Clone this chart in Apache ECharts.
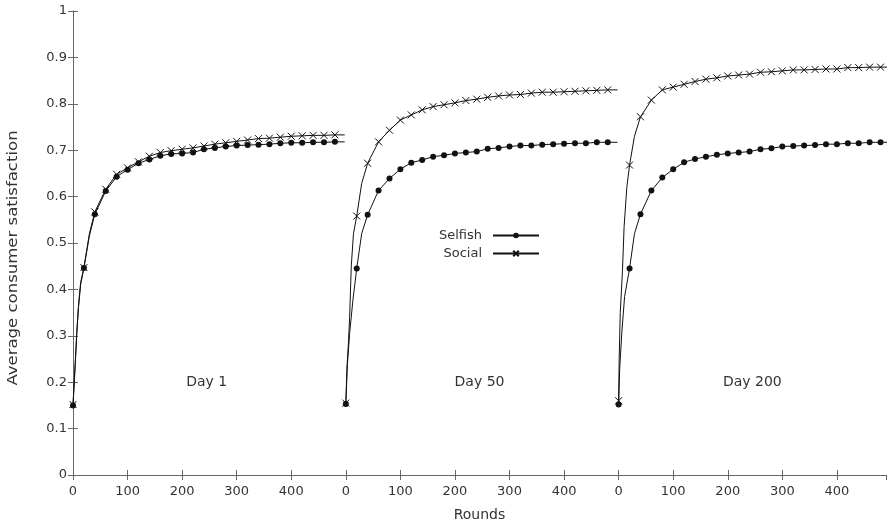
<!DOCTYPE html>
<html>
<head>
<meta charset="utf-8">
<script src="https://cdn.jsdelivr.net/npm/echarts@6/dist/echarts.min.js"></script>
<style>
  html, body { margin: 0; padding: 0; background: #fff; }
  #chart { width: 887px; height: 527px; }
</style>
</head>
<body>
<div id="chart"></div>
<script>
// rounds that carry a marker (every 20), same for each day
const markRounds = [0, 20, 40, 60, 80, 100, 120, 140, 160, 180, 200, 220, 240, 260, 280, 300, 320, 340, 360, 380, 400, 420, 440, 460, 480]
const endRound = 498
const dayOffsets = [0, 500, 1000]
const dayLabels = ['Day 1', 'Day 50', 'Day 200']

// values at the marked rounds
const selfishDay1 = [0.150, 0.446, 0.562, 0.612, 0.643, 0.658, 0.672, 0.680, 0.688, 0.692, 0.693, 0.695, 0.702, 0.705, 0.708, 0.710, 0.711, 0.712, 0.713, 0.715, 0.716, 0.716, 0.717, 0.717, 0.718]
const socialDay1 = [0.152, 0.447, 0.567, 0.616, 0.648, 0.662, 0.675, 0.687, 0.695, 0.699, 0.702, 0.705, 0.709, 0.713, 0.716, 0.719, 0.722, 0.725, 0.726, 0.728, 0.730, 0.731, 0.732, 0.732, 0.733]
const selfishDay50 = [0.153, 0.445, 0.561, 0.613, 0.639, 0.659, 0.673, 0.679, 0.686, 0.689, 0.693, 0.695, 0.697, 0.703, 0.705, 0.708, 0.710, 0.710, 0.712, 0.713, 0.714, 0.715, 0.715, 0.717, 0.717]
const socialDay50 = [0.155, 0.558, 0.672, 0.718, 0.743, 0.765, 0.776, 0.787, 0.794, 0.798, 0.802, 0.807, 0.810, 0.814, 0.817, 0.819, 0.820, 0.823, 0.825, 0.825, 0.826, 0.827, 0.828, 0.829, 0.830]
const selfishDay200 = [0.152, 0.445, 0.562, 0.613, 0.641, 0.659, 0.674, 0.681, 0.686, 0.690, 0.693, 0.695, 0.697, 0.702, 0.704, 0.708, 0.709, 0.710, 0.711, 0.713, 0.713, 0.715, 0.715, 0.717, 0.717]
const socialDay200 = [0.160, 0.668, 0.772, 0.808, 0.830, 0.836, 0.842, 0.848, 0.853, 0.856, 0.860, 0.862, 0.864, 0.868, 0.869, 0.871, 0.873, 0.873, 0.874, 0.875, 0.875, 0.878, 0.878, 0.879, 0.879]

// unmarked points on the steep start of each curve
const earlySelfishDay1 = { rounds: [4, 7, 10, 14, 30], values: [0.235, 0.305, 0.36, 0.41, 0.515] }
const earlySocialDay1 = { rounds: [4, 7, 10, 14, 30], values: [0.24, 0.31, 0.365, 0.415, 0.52] }
const earlySelfishDay50 = { rounds: [3, 7, 13, 29], values: [0.24, 0.305, 0.377, 0.52] }
const earlySocialDay50 = { rounds: [2, 5, 7, 10, 14, 29], values: [0.23, 0.29, 0.34, 0.45, 0.52, 0.628] }
const earlySelfishDay200 = { rounds: [2, 6, 11, 29], values: [0.23, 0.31, 0.385, 0.52] }
const earlySocialDay200 = { rounds: [1, 3, 7, 10, 15, 29], values: [0.25, 0.35, 0.44, 0.535, 0.62, 0.73] }

const crossPath = 'path://M0 0L10 10M10 0L0 10'

function buildData(marked, early, offset) {
  const pts = markRounds.map((r, i) => ({ value: [r + offset, marked[i]] }))
  early.rounds.forEach((r, i) => {
    pts.push({ value: [r + offset, early.values[i]], symbol: 'none' })
  })
  pts.push({ value: [endRound + offset, marked[marked.length - 1]], symbol: 'none' })
  return pts.sort((a, b) => a.value[0] - b.value[0])
}

function lineSeries(name, marked, early, offset) {
  const social = name === 'Social'
  return {
    name,
    type: 'line',
    data: buildData(marked, early, offset),
    showAllSymbol: true,
    symbol: social ? crossPath : 'circle',
    symbolSize: social ? 7 : 6,
    lineStyle: { color: '#111', width: 1 },
    itemStyle: social
      ? { color: '#111', borderColor: '#111', borderWidth: 1 }
      : { color: '#111', borderWidth: 0 },
    emphasis: { disabled: true },
    z: social ? 3 : 2,
  }
}

const chart = echarts.init(document.getElementById('chart'))
const font = 'DejaVu Sans'
const axisGray = '#666'
const textGray = '#333'

chart.setOption({
  animation: false,
  textStyle: { fontFamily: font },
  grid: { left: 73, right: 1, top: 11, bottom: 52 },
  legend: {
    data: ['Selfish', 'Social'],
    orient: 'vertical',
    align: 'right',
    right: 342,
    top: 224,
    itemWidth: 46,
    itemHeight: 7,
    itemGap: 5,
    textStyle: { fontSize: 13, color: textGray, fontFamily: font, padding: [0, 6, 0, 0] },
  },
  xAxis: [
    {
      type: 'value',
      min: 0,
      max: 1490,
      interval: 100,
      position: 'bottom',
      name: 'Rounds',
      nameLocation: 'middle',
      nameGap: 33,
      nameTextStyle: { fontSize: 14, color: textGray },
      axisLine: { lineStyle: { color: axisGray } },
      axisTick: { inside: true, length: 5, lineStyle: { color: axisGray } },
      axisLabel: {
        fontSize: 13,
        color: textGray,
        margin: 10,
        showMaxLabel: false,
        formatter: (v) => String(v % 500),
      },
      splitLine: { show: false },
    },
    {
      type: 'value',
      min: 0,
      max: 1490,
      interval: 100,
      position: 'top',
      axisLine: { lineStyle: { color: axisGray } },
      axisTick: { inside: true, length: 5, lineStyle: { color: axisGray } },
      axisLabel: { show: false },
      splitLine: { show: false },
    },
  ],
  yAxis: [
    {
      type: 'value',
      min: 0,
      max: 1,
      interval: 0.1,
      axisLine: { show: true, lineStyle: { color: axisGray } },
      axisTick: { show: true, inside: true, length: 5, lineStyle: { color: axisGray } },
      axisLabel: { fontSize: 13, color: textGray, margin: 6 },
      splitLine: { show: false },
    },
    {
      type: 'value',
      min: 0,
      max: 1,
      interval: 0.1,
      position: 'right',
      axisLine: { show: true, lineStyle: { color: axisGray } },
      axisTick: { show: true, inside: true, length: 5, lineStyle: { color: axisGray } },
      axisLabel: { show: false },
      splitLine: { show: false },
    },
  ],
  series: [
    lineSeries('Selfish', selfishDay1, earlySelfishDay1, dayOffsets[0]),
    lineSeries('Social', socialDay1, earlySocialDay1, dayOffsets[0]),
    lineSeries('Selfish', selfishDay50, earlySelfishDay50, dayOffsets[1]),
    lineSeries('Social', socialDay50, earlySocialDay50, dayOffsets[1]),
    lineSeries('Selfish', selfishDay200, earlySelfishDay200, dayOffsets[2]),
    lineSeries('Social', socialDay200, earlySocialDay200, dayOffsets[2]),
  ],
})

// day captions sit near round 245 of each panel, value 0.2
const captions = dayLabels.map((label, i) => {
  const [x, y] = chart.convertToPixel({ xAxisIndex: 0, yAxisIndex: 0 }, [dayOffsets[i] + 245, 0.2])
  return {
    type: 'text',
    x,
    y,
    style: { text: label, fontSize: 14, fontFamily: font, fill: textGray, align: 'center', verticalAlign: 'middle' },
  }
})

// y title, stretched a little along its length like the original
captions.push({
  type: 'text',
  x: 13,
  y: 258,
  rotation: Math.PI / 2,
  scaleX: 1.18,
  style: {
    text: 'Average consumer satisfaction',
    fontSize: 14,
    fontFamily: font,
    fill: textGray,
    align: 'center',
    verticalAlign: 'middle',
  },
})
chart.setOption({ graphic: captions })
</script>
</body>
</html>
